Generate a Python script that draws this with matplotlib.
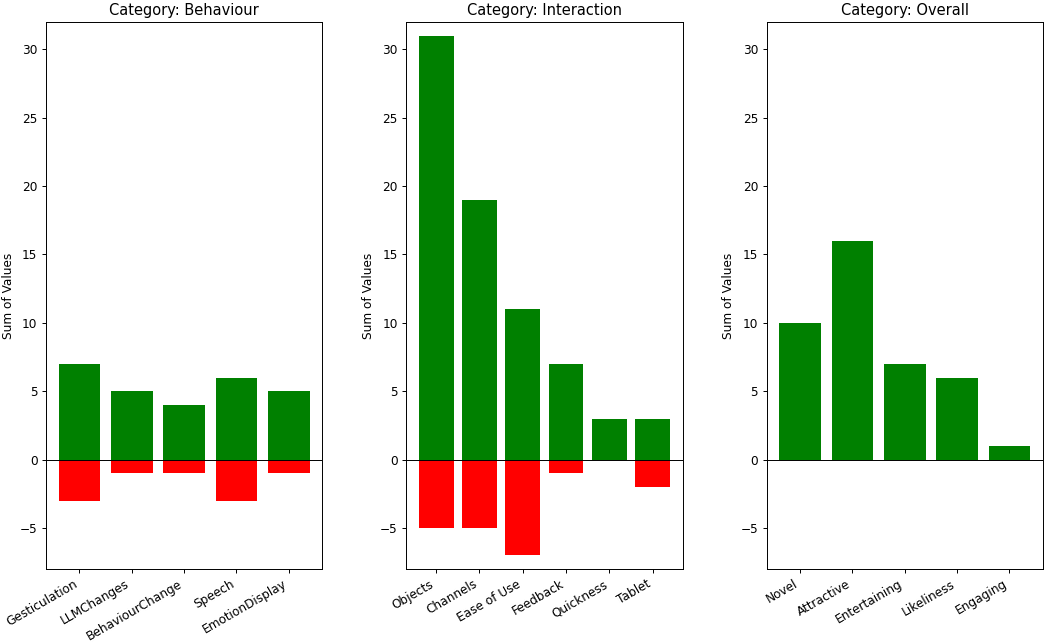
import numpy as np
import matplotlib.pyplot as plt

# ── Data ──────────────────────────────────────────────────────────────────────
behaviour_labels = ["Gesticulation", "LLMChanges", "BehaviourChange", "Speech", "EmotionDisplay"]
behaviour_pos = [7, 5, 4, 6, 5]
behaviour_neg = [-3, -1, -1, -3, -1]

interaction_labels = ["Objects", "Channels", "Ease of Use", "Feedback", "Quickness", "Tablet"]
interaction_pos = [31, 19, 11, 7, 3, 3]
interaction_neg = [-5, -5, -7, -1, 0, -2]

overall_labels = ["Novel", "Attractive", "Entertaining", "Likeliness", "Engaging"]
overall_pos = [10, 16, 7, 6, 1]
overall_neg = [0, 0, 0, 0, 0]

panels = [
    ("Behaviour", behaviour_labels, behaviour_pos, behaviour_neg),
    ("Interaction", interaction_labels, interaction_pos, interaction_neg),
    ("Overall", overall_labels, overall_pos, overall_neg),
]

DPI = 87.67
fig, axes = plt.subplots(1, 3, figsize=(1052 / DPI, 644 / DPI), dpi=DPI)
fig.subplots_adjust(left=0.0437, right=0.9914, top=0.9658, bottom=0.1165, wspace=0.304)

for ax, (name, labels, pos, neg) in zip(axes, panels):
    x = np.arange(len(labels))
    ax.bar(x, pos, color="green")
    ax.bar(x, neg, color="red")
    ax.axhline(0, color="black", linewidth=0.8)
    ax.set_ylim(-8, 32)
    ax.set_xticks(x)
    ax.set_xticklabels(labels, rotation=30, ha="right")
    ax.set_ylabel("Sum of Values")
    ax.set_title(f"Category: {name}")

fig.savefig("out.png", dpi=DPI)
